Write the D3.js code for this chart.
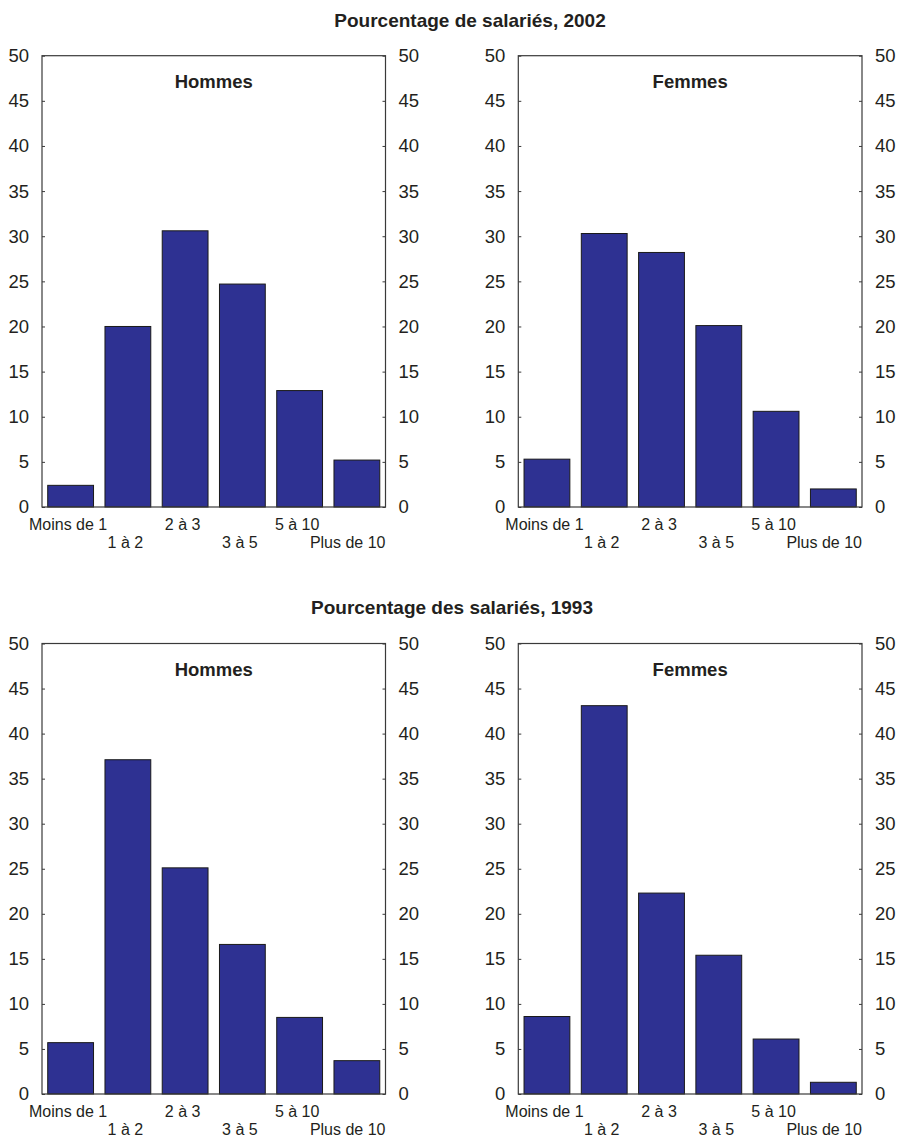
<!DOCTYPE html>
<html>
<head>
<meta charset="utf-8">
<script src="https://cdn.jsdelivr.net/npm/d3@7"></script>
<style>
  body { margin: 0; background: #fff; }
  svg { display: block; font-family: "Liberation Sans", Arial, Helvetica, sans-serif; }
</style>
</head>
<body>
<svg id="chart" width="898" height="1139"></svg>
<script>
// ---- Data ----
const categories = ["Moins de 1", "1 à 2", "2 à 3", "3 à 5", "5 à 10", "Plus de 10"];
const hommes2002 = [2.4, 20.0, 30.6, 24.7, 12.9, 5.2];
const femmes2002 = [5.3, 30.3, 28.2, 20.1, 10.6, 2.0];
const hommes1993 = [5.7, 37.1, 25.1, 16.6, 8.5, 3.7];
const femmes1993 = [8.6, 43.1, 22.3, 15.4, 6.1, 1.3];
const yTicks = [0, 5, 10, 15, 20, 25, 30, 35, 40, 45, 50];
const sectionTitles = ["Pourcentage de salariés, 2002", "Pourcentage des salariés, 1993"];
const panelTitles = ["Hommes", "Femmes"];

const svg = d3.select("#chart");
const textColor = "#231f20";
const axisColor = "#3a3a3a";
const barFill = "#2e3192";

const sections = [
  { title: sectionTitles[0], tx: 470, ty: 26.5, top: 55.7, bottom: 507, data: [hommes2002, femmes2002] },
  { title: sectionTitles[1], tx: 452, ty: 614, top: 643.5, bottom: 1094, data: [hommes1993, femmes1993] }
];
const panelX = [[42, 385.5], [518.3, 862]];

sections.forEach(sec => {
  svg.append("text")
    .attr("x", sec.tx).attr("y", sec.ty)
    .attr("text-anchor", "middle")
    .attr("font-weight", "bold")
    .attr("font-size", 19)
    .attr("fill", textColor)
    .text(sec.title);

  sec.data.forEach((vals, pi) => {
    const [x0, x1] = panelX[pi];
    const y = d3.scaleLinear().domain([0, 50]).range([sec.bottom, sec.top]);
    const x = d3.scaleBand().domain(categories).range([x0, x1]).paddingInner(0.2).paddingOuter(0.1);
    const g = svg.append("g");

    g.selectAll("rect.bar").data(vals).enter().append("rect")
      .attr("class", "bar")
      .attr("x", (d, i) => x(categories[i]))
      .attr("width", x.bandwidth())
      .attr("y", d => y(d))
      .attr("height", d => y(0) - y(d))
      .attr("fill", barFill)
      .attr("stroke", "#1a1a1a")
      .attr("stroke-width", 1);

    const left = d3.axisLeft(y).tickValues(yTicks).tickSize(-3).tickPadding(13).tickFormat(d3.format("d"));
    const gl = g.append("g").attr("transform", `translate(${x0},0)`).call(left);
    const right = d3.axisRight(y).tickValues(yTicks).tickSize(-3).tickPadding(13).tickFormat(d3.format("d"));
    const gr = g.append("g").attr("transform", `translate(${x1},0)`).call(right);
    [gl, gr].forEach(ga => {
      ga.select(".domain").remove();
      ga.selectAll(".tick line").attr("stroke", axisColor);
      ga.selectAll(".tick text").attr("font-size", 18.5).attr("fill", textColor)
        .attr("font-family", "'Liberation Sans', Arial, Helvetica, sans-serif");
    });

    g.append("rect")
      .attr("x", x0).attr("y", sec.top)
      .attr("width", x1 - x0).attr("height", sec.bottom - sec.top)
      .attr("fill", "none").attr("stroke", axisColor).attr("stroke-width", 1.2);

    categories.forEach((c, i) => {
      const cx = x(c) + x.bandwidth() / 2 - 2.5;
      const t = g.append("text")
        .attr("x", cx)
        .attr("y", sec.bottom + (i % 2 === 0 ? 22.5 : 41))
        .attr("text-anchor", "middle")
        .attr("font-size", 16)
        .attr("fill", textColor)
        .text(c);
      const w = t.node().getComputedTextLength();
      if (cx + w / 2 > x1) {
        t.attr("text-anchor", "end").attr("x", x1);
      }
    });

    g.append("text")
      .attr("x", (x0 + x1) / 2).attr("y", sec.top + 32.5)
      .attr("text-anchor", "middle")
      .attr("font-weight", "bold")
      .attr("font-size", 18.5)
      .attr("fill", textColor)
      .text(panelTitles[pi]);
  });
});
</script>
</body>
</html>
